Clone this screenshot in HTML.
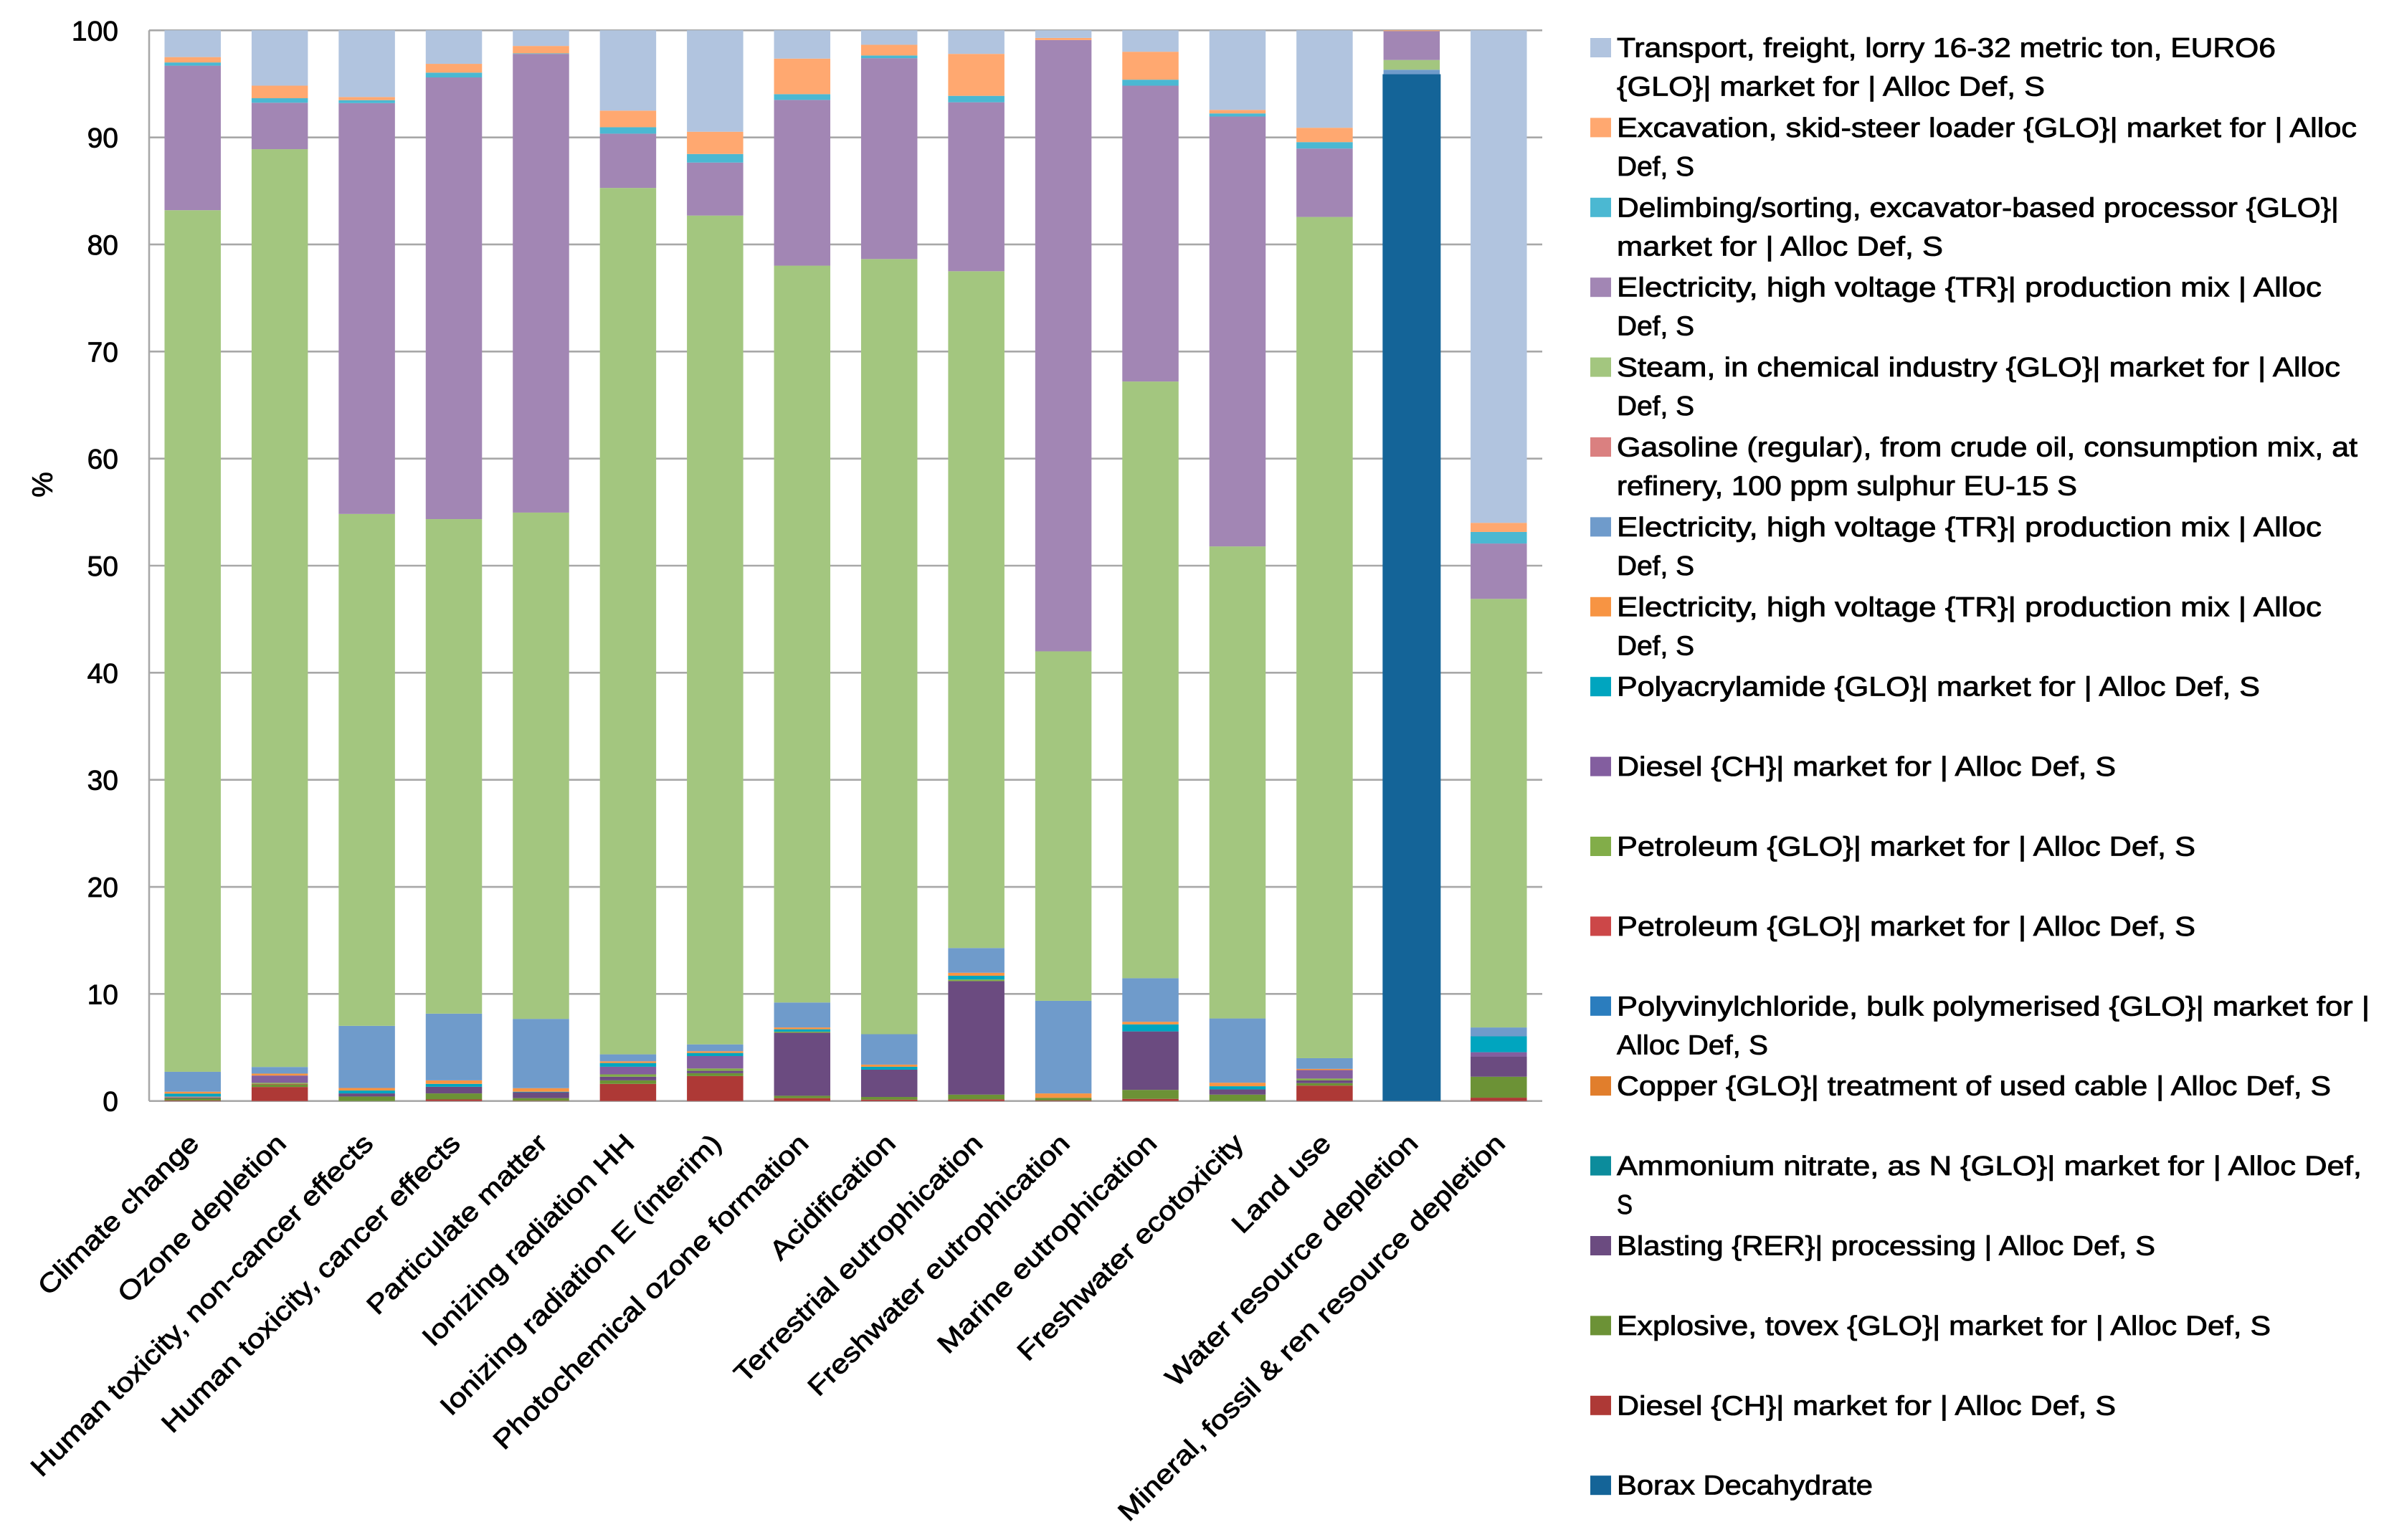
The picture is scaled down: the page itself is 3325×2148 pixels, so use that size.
<!DOCTYPE html>
<html lang="en">
<head>
<meta charset="utf-8">
<title>Stacked contribution chart</title>
<style>
html,body{margin:0;padding:0;background:#fff}
svg{display:block}
text{font-family:"Liberation Sans",Arial,sans-serif;fill:#000}
.leg text{font-size:38px;stroke:#000;stroke-width:.85px}
.tick{font-size:39px;stroke:#000;stroke-width:.8px}
.cat{font-size:37px;stroke:#000;stroke-width:.85px}
</style>
</head>
<body>
<svg id="chart" xmlns="http://www.w3.org/2000/svg" width="3325" height="2148" viewBox="0 0 3325 2148">
  <rect x="0" y="0" width="3325" height="2148" fill="#fff"/>
  <g id="grid"></g>
  <g id="bars"></g>
  <g id="yticks"></g>
  <g id="xticks"></g>
  <text transform="translate(73,676) rotate(-90)" text-anchor="middle" font-size="40" stroke="#000" stroke-width=".8">%</text>

  <g class="leg">
    <g transform="translate(0,66.5)"><rect x="2218" y="-13.5" width="29" height="27" fill="#B1C4DF"/><text x="2255" y="13" textLength="919" lengthAdjust="spacingAndGlyphs">Transport, freight, lorry 16-32 metric ton, EURO6</text><text x="2255" y="67" textLength="597" lengthAdjust="spacingAndGlyphs">{GLO}| market for | Alloc Def, S</text></g>
    <g transform="translate(0,177.9)"><rect x="2218" y="-13.5" width="29" height="27" fill="#FFA870"/><text x="2255" y="13" textLength="1032" lengthAdjust="spacingAndGlyphs">Excavation, skid-steer loader {GLO}| market for | Alloc</text><text x="2255" y="67" textLength="108" lengthAdjust="spacingAndGlyphs">Def, S</text></g>
    <g transform="translate(0,289.3)"><rect x="2218" y="-13.5" width="29" height="27" fill="#4BB8D2"/><text x="2255" y="13" textLength="1007" lengthAdjust="spacingAndGlyphs">Delimbing/sorting, excavator-based processor {GLO}|</text><text x="2255" y="67" textLength="455" lengthAdjust="spacingAndGlyphs">market for | Alloc Def, S</text></g>
    <g transform="translate(0,400.7)"><rect x="2218" y="-13.5" width="29" height="27" fill="#A286B4"/><text x="2255" y="13" textLength="983" lengthAdjust="spacingAndGlyphs">Electricity, high voltage {TR}| production mix | Alloc</text><text x="2255" y="67" textLength="108" lengthAdjust="spacingAndGlyphs">Def, S</text></g>
    <g transform="translate(0,512.1)"><rect x="2218" y="-13.5" width="29" height="27" fill="#A3C67F"/><text x="2255" y="13" textLength="1009" lengthAdjust="spacingAndGlyphs">Steam, in chemical industry {GLO}| market for | Alloc</text><text x="2255" y="67" textLength="108" lengthAdjust="spacingAndGlyphs">Def, S</text></g>
    <g transform="translate(0,623.5)"><rect x="2218" y="-13.5" width="29" height="27" fill="#DA8080"/><text x="2255" y="13" textLength="1033" lengthAdjust="spacingAndGlyphs">Gasoline (regular), from crude oil, consumption mix, at</text><text x="2255" y="67" textLength="642" lengthAdjust="spacingAndGlyphs">refinery, 100 ppm sulphur EU-15 S</text></g>
    <g transform="translate(0,734.9)"><rect x="2218" y="-13.5" width="29" height="27" fill="#6F9BCB"/><text x="2255" y="13" textLength="983" lengthAdjust="spacingAndGlyphs">Electricity, high voltage {TR}| production mix | Alloc</text><text x="2255" y="67" textLength="108" lengthAdjust="spacingAndGlyphs">Def, S</text></g>
    <g transform="translate(0,846.3)"><rect x="2218" y="-13.5" width="29" height="27" fill="#F79443"/><text x="2255" y="13" textLength="983" lengthAdjust="spacingAndGlyphs">Electricity, high voltage {TR}| production mix | Alloc</text><text x="2255" y="67" textLength="108" lengthAdjust="spacingAndGlyphs">Def, S</text></g>
    <g transform="translate(0,957.7)"><rect x="2218" y="-13.5" width="29" height="27" fill="#00A5BF"/><text x="2255" y="13" textLength="897" lengthAdjust="spacingAndGlyphs">Polyacrylamide {GLO}| market for | Alloc Def, S</text></g>
    <g transform="translate(0,1069.1)"><rect x="2218" y="-13.5" width="29" height="27" fill="#835E9F"/><text x="2255" y="13" textLength="696" lengthAdjust="spacingAndGlyphs">Diesel {CH}| market for | Alloc Def, S</text></g>
    <g transform="translate(0,1180.5)"><rect x="2218" y="-13.5" width="29" height="27" fill="#82AD49"/><text x="2255" y="13" textLength="807" lengthAdjust="spacingAndGlyphs">Petroleum {GLO}| market for | Alloc Def, S</text></g>
    <g transform="translate(0,1291.9)"><rect x="2218" y="-13.5" width="29" height="27" fill="#CC4748"/><text x="2255" y="13" textLength="807" lengthAdjust="spacingAndGlyphs">Petroleum {GLO}| market for | Alloc Def, S</text></g>
    <g transform="translate(0,1403.3)"><rect x="2218" y="-13.5" width="29" height="27" fill="#2B7DBE"/><text x="2255" y="13" textLength="1050" lengthAdjust="spacingAndGlyphs">Polyvinylchloride, bulk polymerised {GLO}| market for |</text><text x="2255" y="67" textLength="211" lengthAdjust="spacingAndGlyphs">Alloc Def, S</text></g>
    <g transform="translate(0,1514.7)"><rect x="2218" y="-13.5" width="29" height="27" fill="#E17E2C"/><text x="2255" y="13" textLength="996" lengthAdjust="spacingAndGlyphs">Copper {GLO}| treatment of used cable | Alloc Def, S</text></g>
    <g transform="translate(0,1626.1)"><rect x="2218" y="-13.5" width="29" height="27" fill="#0C8C9C"/><text x="2255" y="13" textLength="1039" lengthAdjust="spacingAndGlyphs">Ammonium nitrate, as N {GLO}| market for | Alloc Def,</text><text x="2255" y="67" textLength="22" lengthAdjust="spacingAndGlyphs">S</text></g>
    <g transform="translate(0,1737.5)"><rect x="2218" y="-13.5" width="29" height="27" fill="#6B4B80"/><text x="2255" y="13" textLength="751" lengthAdjust="spacingAndGlyphs">Blasting {RER}| processing | Alloc Def, S</text></g>
    <g transform="translate(0,1848.9)"><rect x="2218" y="-13.5" width="29" height="27" fill="#6C9236"/><text x="2255" y="13" textLength="912" lengthAdjust="spacingAndGlyphs">Explosive, tovex {GLO}| market for | Alloc Def, S</text></g>
    <g transform="translate(0,1960.3)"><rect x="2218" y="-13.5" width="29" height="27" fill="#AE3936"/><text x="2255" y="13" textLength="696" lengthAdjust="spacingAndGlyphs">Diesel {CH}| market for | Alloc Def, S</text></g>
    <g transform="translate(0,2071.7)"><rect x="2218" y="-13.5" width="29" height="27" fill="#146498"/><text x="2255" y="13" textLength="357" lengthAdjust="spacingAndGlyphs">Borax Decahydrate</text></g>
  </g>
</svg>
<script>
const categories = ["Climate change","Ozone depletion","Human toxicity, non-cancer effects","Human toxicity, cancer effects","Particulate matter","Ionizing radiation HH","Ionizing radiation E (interim)","Photochemical ozone formation","Acidification","Terrestrial eutrophication","Freshwater eutrophication","Marine eutrophication","Freshwater ecotoxicity","Land use","Water resource depletion","Mineral, fossil & ren resource depletion"];
const yTicks = [0,10,20,30,40,50,60,70,80,90,100];

const borax        = [0,0,0,0,0,0,0,0,0,0,0,0,0,0,95.9,0];
const dieselRed    = [.05,1.31,0,.15,.03,1.6,2.33,.27,.13,.16,.05,.2,0,1.44,0,.31];
const explosive    = [.2,.24,.42,.56,.24,.33,.27,.22,.25,.44,.25,.84,.6,.23,0,1.96];
const blasting     = [.07,0,.29,.62,.55,.34,.22,5.89,2.55,10.6,0,5.46,.49,.26,0,1.89];
const ammonium     = [0,0,0,0,0,0,0,0,0,0,0,0,0,0,0,0];
const copper       = [.02,0,0,0,0,0,0,0,0,0,0,0,0,0,0,0];
const pvc          = [0,0,0,0,0,0,0,0,0,0,0,0,0,0,0,0];
const petroleumRed = [.02,.05,0,0,0,0,0,0,0,0,0,0,0,0,0,0];
const petroleumGrn = [.03,.1,0,0,0,.22,.22,.1,0,.15,0,0,0,.17,0,0];
const dieselPurple = [.03,.68,0,0,0,.71,1.16,0,0,0,0,0,0,.79,0,.4];
const polyacryl    = [.27,0,.27,.27,.05,.35,.29,.22,.27,.35,0,.66,.29,0,0,1.48];
const elecOrange   = [.18,.18,.24,.33,.33,.16,.16,.17,.2,.28,.41,.24,.33,.11,0,0];
const elecBlue     = [1.86,.62,5.8,6.23,6.47,.65,.64,2.33,2.84,2.31,8.65,4.07,6,1,.42,.83];
const gasoline     = [0,0,0,0,0,0,0,0,0,0,0,0,0,0,0,0];
const steam        = [80.47,85.72,47.81,46.19,47.29,80.92,77.41,68.82,72.4,63.21,32.64,55.73,44.09,78.57,.91,40.03];
const elecPurple   = [13.5,4.34,38.37,41.25,42.84,5.07,4.95,15.48,18.76,15.78,57.09,27.63,40.15,6.39,2.7,5.17];
const delimbing    = [.3,.42,.28,.45,.05,.6,.8,.54,.25,.6,0,.56,.29,.6,0,1.08];
const excavation   = [.5,1.17,.29,.82,.69,1.55,2.08,3.32,1,3.92,.2,2.61,.33,1.34,.07,.85];
const transport    = [2.5,5.17,6.23,3.13,1.46,7.5,9.47,2.64,1.35,2.2,.71,2,7.43,9.1,0,46];

const stackOrder = [borax,dieselRed,explosive,blasting,ammonium,copper,pvc,petroleumRed,petroleumGrn,dieselPurple,polyacryl,elecOrange,elecBlue,gasoline,steam,elecPurple,delimbing,excavation,transport];
const seriesNames = ["borax","diesel-ch-red","explosive","blasting","ammonium-nitrate","copper","polyvinylchloride","petroleum-red","petroleum-green","diesel-ch-purple","polyacrylamide","electricity-orange","electricity-blue","gasoline","steam","electricity-purple","delimbing","excavation","transport"];
const seriesColors = ["#146498","#AE3936","#6C9236","#6B4B80","#0C8C9C","#E17E2C","#2B7DBE","#CC4748","#82AD49","#835E9F","#00A5BF","#F79443","#6F9BCB","#DA8080","#A3C67F","#A286B4","#4BB8D2","#FFA870","#B1C4DF"];

const NS = "http://www.w3.org/2000/svg";
const plotLeft = 208, plotRight = 2151, plotTop = 42.3, plotBottom = 1535.7;
const band = (plotRight - plotLeft) / categories.length;
const barWidth = 78.5;
function yScale(v){ return plotBottom - (v / 100) * (plotBottom - plotTop); }
function xCenter(i){ return plotLeft + band * (i + 0.5); }

const grid = document.getElementById("grid");
const barsG = document.getElementById("bars");
const yG = document.getElementById("yticks");
const xG = document.getElementById("xticks");

yTicks.forEach(function(t){
  const line = document.createElementNS(NS, "line");
  
  
  line.setAttribute("x1", plotLeft);
  line.setAttribute("x2", plotRight);
  line.setAttribute("y1", yScale(t));
  line.setAttribute("y2", yScale(t));
  line.setAttribute("stroke", "#A8A8A8");
  line.setAttribute("stroke-width", "2.6");
  grid.appendChild(line);

  const label = document.createElementNS(NS, "text");
  
  
  label.setAttribute("class", "tick");
  label.setAttribute("x", 165);
  label.setAttribute("y", yScale(t) + 14);
  label.setAttribute("text-anchor", "end");
  label.textContent = t;
  yG.appendChild(label);
});

const axisLine = document.createElementNS(NS, "line");


axisLine.setAttribute("x1", plotLeft);
axisLine.setAttribute("x2", plotLeft);
axisLine.setAttribute("y1", plotTop);
axisLine.setAttribute("y2", plotBottom);
axisLine.setAttribute("stroke", "#A8A8A8");
axisLine.setAttribute("stroke-width", "2.6");
grid.appendChild(axisLine);

categories.forEach(function(cat, i){
  let cum = 0;
  stackOrder.forEach(function(series, s){
    const v = series[i];
    if (v > 0) {
      const y1 = yScale(cum);
      const y2 = yScale(cum + v);
      const rect = document.createElementNS(NS, "rect");
      
      
      const w = s === 0 ? barWidth + 2.5 : barWidth;
      rect.setAttribute("x", xCenter(i) - w / 2);
      rect.setAttribute("y", y2);
      rect.setAttribute("width", w);
      rect.setAttribute("height", y1 - y2);
      rect.setAttribute("fill", seriesColors[s]);
      barsG.appendChild(rect);
    }
    cum += v;
  });

  const label = document.createElementNS(NS, "text");
  
  
  label.setAttribute("class", "cat");
  label.setAttribute("text-anchor", "end");
  label.setAttribute("transform", "translate(" + (xCenter(i) + 11) + ",1597) rotate(-45) scale(1.165,1)");
  label.textContent = cat;
  xG.appendChild(label);
});
</script>
</body>
</html>
